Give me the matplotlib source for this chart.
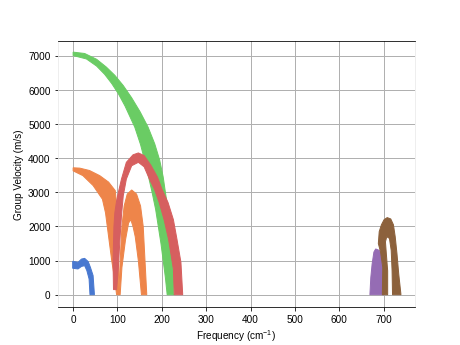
import matplotlib
matplotlib.use("Agg")
import matplotlib.pyplot as plt
import numpy as np

plt.rcParams["font.family"] = ["Liberation Sans", "DejaVu Sans"]
plt.rcParams["mathtext.fontset"] = "custom"
plt.rcParams["mathtext.rm"] = "Liberation Sans"
plt.rcParams["mathtext.it"] = "Liberation Sans:italic"

# outlines of each branch cloud: (frequency cm^-1, group velocity m/s)
blue_top_f = [-1, 11, 19, 26, 34, 39, 45, 48]
blue_top_v = [980, 950, 1045, 1065, 970, 800, 560, 0]
blue_bot_f = [-1, 11, 19, 26, 31, 36, 38]
blue_bot_v = [775, 755, 830, 850, 705, 460, 0]

orange_a_top_f = [0, 15, 37, 60, 80, 95, 99, 101, 104]
orange_a_top_v = [3720, 3710, 3640, 3490, 3300, 3050, 2500, 1000, 0]
orange_a_bot_f = [0, 22, 45, 66, 73, 77, 82, 87, 93, 98]
orange_a_bot_v = [3630, 3490, 3200, 2800, 2400, 2000, 1500, 1000, 500, 0]

orange_b_out_f = [103, 106, 110, 115, 122, 132, 143, 152, 158, 162, 166]
orange_b_out_v = [0, 1000, 2000, 2600, 2950, 3070, 2950, 2600, 2000, 1000, 0]
orange_b_in_f = [154, 147, 140, 135, 130, 125, 118, 110, 106]
orange_b_in_v = [0, 1000, 1700, 2000, 2200, 2100, 1600, 800, 0]

green_top_f = [0, 26, 53, 75, 94, 113, 132, 151, 169, 184, 195, 203, 208, 214, 219, 223, 225, 226, 227]
green_top_v = [7110, 7070, 6900, 6670, 6430, 6130, 5770, 5360, 4910, 4420, 3950, 3450,
               3000, 2500, 2000, 1500, 1000, 500, 0]
green_bot_f = [0, 30, 53, 71, 87, 102, 117, 139, 152, 162, 171, 178, 186, 192, 198, 203, 208, 212]
green_bot_v = [7010, 6910, 6700, 6460, 6190, 5890, 5530, 4910, 4400, 3900, 3400, 3000,
               2500, 2000, 1500, 1000, 500, 0]

red_out_f = [91, 90, 92, 94, 98, 102, 109, 120, 135, 147, 160, 175, 190, 200, 214, 226, 234, 243, 247]
red_out_v = [150, 1000, 2000, 2400, 2750, 3000, 3390, 3880, 4100, 4155, 4080, 3800, 3450, 3100,
             2700, 2200, 1630, 950, 0]
red_in_f = [228, 226, 215, 205, 194, 183, 172, 160, 147, 132, 120, 113, 109, 105, 102, 98]
red_in_v = [0, 750, 1630, 2200, 2700, 3100, 3390, 3750, 3880, 3780, 3390, 2900, 2320, 1500, 800, 150]

purple_f = [669, 671, 674, 678, 682, 690, 694, 697, 700, 701]
purple_v = [0, 500, 900, 1250, 1340, 1300, 1200, 850, 400, 0]

brown_out_f = [697, 698, 693, 688, 690, 695, 701, 708, 716, 722, 726, 730, 734, 739]
brown_out_v = [0, 800, 1250, 1500, 1850, 2050, 2200, 2260, 2220, 2050, 1700, 1200, 600, 0]
brown_in_f = [720, 719, 717, 713, 707, 704, 706, 709, 709]
brown_in_v = [0, 700, 1300, 1650, 1700, 1550, 1200, 700, 0]

colors = {
    "blue": "#4878d0",
    "orange": "#ee854a",
    "green": "#6acc64",
    "red": "#d65f5f",
    "purple": "#956cb4",
    "brown": "#8c613c",
}


def band(ax, f1, v1, f2, v2, color):
    f = np.concatenate([f1, f2[::-1]])
    v = np.concatenate([v1, v2[::-1]])
    ax.fill(f, v, color=color, lw=1.0, zorder=2)


fig, ax = plt.subplots(figsize=(6.4, 4.8), dpi=72)

band(ax, blue_top_f, blue_top_v, blue_bot_f, blue_bot_v, colors["blue"])
band(ax, orange_a_top_f, orange_a_top_v, orange_a_bot_f, orange_a_bot_v, colors["orange"])
band(ax, orange_b_out_f, orange_b_out_v, orange_b_in_f[::-1], orange_b_in_v[::-1], colors["orange"])
band(ax, green_top_f, green_top_v, green_bot_f, green_bot_v, colors["green"])
band(ax, red_out_f, red_out_v, red_in_f[::-1], red_in_v[::-1], colors["red"])
ax.fill(purple_f, purple_v, color=colors["purple"], lw=1.0, zorder=2)
band(ax, brown_out_f, brown_out_v, brown_in_f[::-1], brown_in_v[::-1], colors["brown"])

ax.set_xlim(-35, 770)
ax.set_ylim(-360, 7440)
ax.set_xticks(np.arange(0, 701, 100))
ax.set_yticks(np.arange(0, 7001, 1000))
ax.set_axisbelow(True)
ax.grid(True, color="#b0b0b0", lw=1.0)
ax.spines["left"].set_color("#eaeaea")
ax.spines["right"].set_color("#eaeaea")
ax.set_xlabel("Frequency (cm$^{-1}$)")
ax.set_ylabel("Group Velocity (m/s)")

fig.savefig("out.png", dpi=72)
